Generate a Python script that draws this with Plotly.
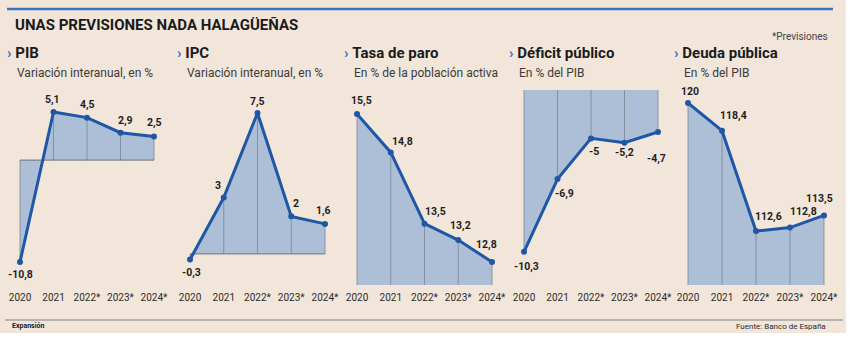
import plotly.graph_objects as go

# ---- data -------------------------------------------------------------
years = ["2020", "2021", "2022*", "2023*", "2024*"]
pib = [-10.8, 5.1, 4.5, 2.9, 2.5]
ipc = [-0.3, 3, 7.5, 2, 1.6]
paro = [15.5, 14.8, 13.5, 13.2, 12.8]
deficit = [-10.3, -6.9, -5, -5.2, -4.7]
deuda = [120, 118.4, 112.6, 112.8, 113.5]

titles = ["PIB", "IPC", "Tasa de paro", "Déficit público", "Deuda pública"]
subtitles = [
    "Variación interanual, en %",
    "Variación interanual, en %",
    "En % de la población activa",
    "En % del PIB",
    "En % del PIB",
]

# ---- layout / style ---------------------------------------------------
W, H = 853, 342
BG = "#f2e6da"
BLUE = "#1f57a6"
FILL = "#adbfd6"
GRID = "rgba(120,128,140,0.75)"
SANS = "Roboto, Lato, sans-serif"

PLOT_TOP, PLOT_BOT = 90, 285  # pixel rows of the plotting band


def px(x):
    return x / W


def py(y):
    return 1 - y / H


# per panel: first point x (px), step (px), y range, fill baseline,
# zero line flag, label offsets (px, from each point)
panels = [
    dict(vals=pib, x0=20, dx=33.5, yr=(-13.25, 7.43), base=0, zl=True,
         off=[(0, 13), (-1, -12), (0, -13), (5, -12), (0, -14)]),
    dict(vals=ipc, x0=190, dx=33.75, yr=(-1.65, 8.72), base=0, zl=True,
         off=[(1, 13), (-6, -12), (0, -11), (5, -13), (-2, -13)]),
    dict(vals=paro, x0=357, dx=33.75, yr=(12.38, 15.94), base=12.38, zl=False,
         off=[(4, -14), (12, -11), (11, -12), (2, -15), (-6, -17)]),
    dict(vals=deficit, x0=524, dx=33.5, yr=(-11.85, -2.74), base=-2.74, zl=False,
         off=[(2, 15), (7, 14), (3, 13), (0, 10), (-2, 27)]),
    dict(vals=deuda, x0=688, dx=34, yr=(109.48, 120.75), base=109.48, zl=False,
         off=[(2, -11), (11, -15), (12, -15), (13, -16), (-5, -17)]),
]

PAD = 0.1
xs = list(range(len(years)))


def fmt(v):
    return f"{v:g}".replace(".", ",")


fig = go.Figure()
layout = dict(
    width=W, height=H, autosize=False,
    margin=dict(l=0, r=0, t=0, b=0, pad=0),
    paper_bgcolor="white", plot_bgcolor="rgba(0,0,0,0)",
    showlegend=False,
    shapes=[], annotations=[],
)

for i, p in enumerate(panels, start=1):
    sfx = "" if i == 1 else str(i)
    xa, ya = "x" + sfx, "y" + sfx
    left = p["x0"] - PAD * p["dx"]
    right = p["x0"] + (4 + PAD) * p["dx"]
    layout["xaxis" + sfx] = dict(
        domain=[px(left), px(right)], range=[-PAD, 4 + PAD], anchor=ya,
        showgrid=False, zeroline=False, showline=False, ticks="",
        tickvals=xs, ticktext=years, ticklabelstandoff=5, automargin=False,
        tickfont=dict(family=SANS, size=10, color="#2b2b2b"), fixedrange=True,
    )
    layout["yaxis" + sfx] = dict(
        domain=[py(PLOT_BOT), py(PLOT_TOP)], range=list(p["yr"]), anchor=xa,
        visible=False, automargin=False, fixedrange=True,
    )
    vals = p["vals"]
    base = [p["base"]] * len(vals)
    # baseline and shaded area
    fig.add_trace(go.Scatter(x=xs, y=base, mode="lines", line=dict(width=0),
                             xaxis=xa, yaxis=ya, hoverinfo="skip"))
    fig.add_trace(go.Scatter(x=xs, y=vals, mode="lines", line=dict(width=0),
                             fill="tonexty", fillcolor=FILL,
                             xaxis=xa, yaxis=ya, hoverinfo="skip"))
    # vertical drop lines
    vx, vy = [], []
    for xv, v in zip(xs, vals):
        vx += [xv, xv, None]
        vy += [p["base"], v, None]
    fig.add_trace(go.Scatter(x=vx, y=vy, mode="lines",
                             line=dict(color=GRID, width=1),
                             xaxis=xa, yaxis=ya, hoverinfo="skip"))
    if p["zl"]:
        fig.add_trace(go.Scatter(x=[0, 4], y=[p["base"], p["base"]], mode="lines",
                                 line=dict(color="rgba(110,115,125,0.8)", width=1.2),
                                 xaxis=xa, yaxis=ya, hoverinfo="skip"))
    # main series
    fig.add_trace(go.Scatter(
        x=xs, y=vals, mode="lines+markers",
        line=dict(color=BLUE, width=3),
        marker=dict(color=BLUE, size=6),
        cliponaxis=False, xaxis=xa, yaxis=ya,
    ))
    # value labels
    for xv, v, (ox, oy) in zip(xs, vals, p["off"]):
        layout["annotations"].append(dict(
            x=xv, y=v, xref=xa, yref=ya, xshift=ox, yshift=-oy,
            xanchor="center", yanchor="middle", showarrow=False,
            text=f"<b>{fmt(v)}</b>",
            font=dict(family=SANS, size=10.5, color="#1e1e1e"),
        ))

# panel headers
head_x = [5, 175, 342, 507, 672]
for hx, t, s in zip(head_x, titles, subtitles):
    layout["annotations"].append(dict(
        x=px(hx), y=py(53), xref="paper", yref="paper", xanchor="left", yanchor="middle",
        text=f"<span style='color:#2f6fc0'><b>›</b></span> <b>{t}</b>", showarrow=False,
        font=dict(family=SANS, size=15, color="#1b1b1b"),
    ))
    layout["annotations"].append(dict(
        x=px(hx + 10), y=py(73), xref="paper", yref="paper", xanchor="left", yanchor="middle",
        text=s, showarrow=False,
        font=dict(family=SANS, size=12, color="#3a3a3a"),
    ))

# title, note and footer
layout["annotations"] += [
    dict(x=px(13), y=py(25), xref="paper", yref="paper", xanchor="left", yanchor="middle",
         text="<b>UNAS PREVISIONES NADA HALAGÜEÑAS</b>", showarrow=False,
         font=dict(family=SANS, size=15, color="#1a1a1a")),
    dict(x=px(830), y=py(36), xref="paper", yref="paper", xanchor="right", yanchor="middle",
         text="*Previsiones", showarrow=False,
         font=dict(family=SANS, size=10, color="#444444")),
    dict(x=px(10), y=py(326), xref="paper", yref="paper", xanchor="left", yanchor="middle",
         text="<b>Expansión</b>", showarrow=False,
         font=dict(family=SANS, size=7, color="#1a1a1a")),
    dict(x=px(828), y=py(326), xref="paper", yref="paper", xanchor="right", yanchor="middle",
         text="Fuente: Banco de España", showarrow=False,
         font=dict(family=SANS, size=8, color="#2b2b2b")),
]

layout["shapes"] += [
    dict(type="rect", xref="paper", yref="paper", x0=0, x1=px(846), y0=py(333), y1=1,
         fillcolor=BG, line=dict(width=0), layer="below"),
    dict(type="line", xref="paper", yref="paper", x0=px(7), x1=px(833), y0=py(9), y1=py(9),
         line=dict(color="#3a76ba", width=2.5)),
    dict(type="line", xref="paper", yref="paper", x0=px(5), x1=px(843), y0=py(320), y1=py(320),
         line=dict(color="#a8a39c", width=1.5)),
]

fig.update_layout(**layout)
fig.write_html("out.html")
